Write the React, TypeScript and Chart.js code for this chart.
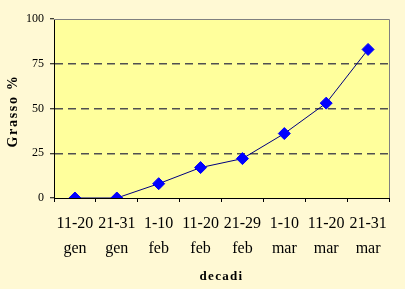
import React, { useEffect, useRef } from "react";
import { Chart, registerables } from "chart.js";

Chart.register(...registerables);

const categories: string[][] = [
  ["11-20", "gen"],
  ["21-31", "gen"],
  ["1-10", "feb"],
  ["11-20", "feb"],
  ["21-29", "feb"],
  ["1-10", "mar"],
  ["11-20", "mar"],
  ["21-31", "mar"],
];
const fatPercent: number[] = [0, 0, 8, 17, 22, 36, 53, 83];
const yTickValues: number[] = [0, 25, 50, 75, 100];
const xTitle = "decadi";
const yTitle = "Grasso %";

const OUTER_BG = "#FFF9D4";
const PLOT_BG = "#FFFF9C";
const SERIF = "'Liberation Serif', 'Times New Roman', serif";

const decorPlugin = {
  id: "decor",
  beforeDraw(chart: any) {
    const { ctx, chartArea } = chart;
    ctx.save();
    ctx.fillStyle = OUTER_BG;
    ctx.fillRect(0, 0, chart.width, chart.height);
    ctx.fillStyle = PLOT_BG;
    ctx.fillRect(chartArea.left, chartArea.top, chartArea.right - chartArea.left, chartArea.bottom - chartArea.top);
    ctx.restore();
  },
  beforeDatasetsDraw(chart: any) {
    const { ctx, chartArea } = chart;
    ctx.save();
    ctx.strokeStyle = "#808080";
    ctx.lineWidth = 1;
    ctx.beginPath();
    ctx.moveTo(chartArea.left, Math.round(chartArea.top) + 0.5);
    ctx.lineTo(Math.round(chartArea.right) + 0.5, Math.round(chartArea.top) + 0.5);
    ctx.lineTo(Math.round(chartArea.right) + 0.5, chartArea.bottom);
    ctx.stroke();
    ctx.restore();
  },
  afterDraw(chart: any) {
    const { ctx, chartArea } = chart;
    ctx.save();
    ctx.fillStyle = "#000";
    (ctx as any).letterSpacing = "1.3px";
    ctx.font = `bold 13px ${SERIF}`;
    ctx.textAlign = "center";
    ctx.textBaseline = "middle";
    ctx.fillText(xTitle, (chartArea.left + chartArea.right) / 2, 277);
    (ctx as any).letterSpacing = "1.7px";
    ctx.font = `bold 14px ${SERIF}`;
    ctx.translate(13, 111);
    ctx.rotate(-Math.PI / 2);
    ctx.fillText(yTitle, 0, 0);
    ctx.restore();
  },
};

export default function App() {
  const ref = useRef<HTMLCanvasElement | null>(null);
  useEffect(() => {
    if (!ref.current) return;
    const chart = new Chart(ref.current, {
      type: "line",
      data: {
        labels: categories,
        datasets: [
          {
            data: fatPercent,
            borderColor: "#000080",
            borderWidth: 1,
            pointStyle: "rectRot",
            pointRadius: 6,
            pointBackgroundColor: "#0000FF",
            pointBorderColor: "#0000FF",
            pointBorderWidth: 1,
            tension: 0,
          },
        ],
      },
      options: {
        animation: false,
        responsive: false,
        maintainAspectRatio: false,
        layout: { padding: { top: 19, right: 16, left: 0, bottom: 0 } },
        plugins: { legend: { display: false }, tooltip: { enabled: false } },
        scales: {
          x: {
            type: "category",
            offset: true,
            grid: {
              offset: true,
              drawOnChartArea: false,
              drawTicks: true,
              tickLength: 4,
              tickColor: "#000",
              color: "#000",
            },
            border: { color: "#000", width: 1 },
            ticks: {
              color: "#000",
              padding: 9,
              maxRotation: 0,
              autoSkip: false,
              font: { family: SERIF, size: 16, lineHeight: 1.5625 },
            },
            afterFit(scale: any) {
              scale.height = 91;
            },
          },
          y: {
            min: 0,
            max: 100,
            afterBuildTicks(scale: any) {
              scale.ticks = yTickValues.map((v) => ({ value: v }));
            },
            grid: {
              color: (c: any) => (c.tick && (c.tick.value === 0 || c.tick.value === 100) ? "rgba(0,0,0,0)" : "#505050"),
              lineWidth: 1.5,
              tickLength: 4,
              tickColor: "#000",
              tickWidth: 1,
            },
            border: { color: "#000", width: 1, dash: [8, 5] },
            ticks: {
              color: "#000",
              padding: 6,
              font: { family: SERIF, size: 12 },
            },
            afterFit(scale: any) {
              scale.width = 54;
            },
          },
        },
      },
      plugins: [decorPlugin],
    });
    return () => chart.destroy();
  }, []);
  return (
    <div style={{ position: "fixed", left: 0, top: 0, width: 405, height: 289, background: OUTER_BG }}>
      <canvas ref={ref} width={405} height={289} style={{ width: 405, height: 289, display: "block" }} />
    </div>
  );
}
